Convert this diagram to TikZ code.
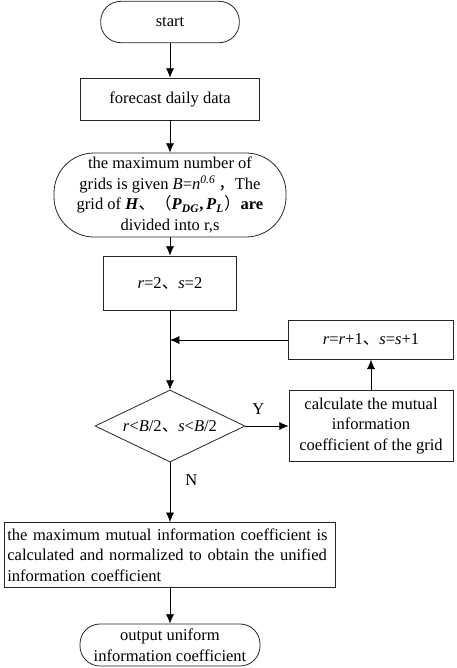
\documentclass[tikz,border=0pt]{standalone}
\usepackage{fontspec}
\setmainfont{Liberation Serif}
\newfontfamily\cjk{Noto Sans CJK SC}
\newcommand\dun{{\cjk 、}}
\usetikzlibrary{shapes.geometric,arrows.meta}

\begin{document}
\begin{tikzpicture}[x=0.75pt,y=-0.75pt,
    font=\fontsize{12.4}{15.5}\selectfont,
    box/.style={draw=black!85, line width=0.6pt, align=center, inner sep=2pt},
    term/.style={box, rounded corners=15pt},
    decide/.style={box, diamond, shape aspect=2.1, inner sep=0pt},
    >={Latex[length=7pt,width=6pt]}]
\useasboundingbox (0,0) rectangle (457,668);

\node[term, minimum width=104pt, minimum height=31pt] (start) at (170,22) {start};
\node[box, minimum width=134pt, minimum height=31.5pt] (fore) at (170,99) {forecast daily data};
\node[box, rounded corners=30pt, minimum width=174pt, minimum height=63pt] (grid) at (170,195)
    {the maximum number of\\
     grids is given \textit{B}=\textit{n}\textsuperscript{\textit{0.6}}\,{\cjk ，}The\\
     grid of \textbf{\textit{H}}\dun{\cjk （}\textbf{\textit{P}\textsubscript{\textit{DG}},\,\textit{P}\textsubscript{\textit{L}}}{\cjk ）}\textbf{are}\\
     divided into r,s};
\node[box, minimum width=100pt, minimum height=40.5pt] (init) at (170,283)
    {\textit{r}=2\dun\textit{s}=2};
\node[box, minimum width=124pt, minimum height=29pt] (incr) at (371,340)
    {\textit{r}=\textit{r}+1\dun\textit{s}=\textit{s}+1};
\coordinate (join) at (170,340);
\node[decide, minimum width=112.5pt, minimum height=54pt] (test) at (170,426)
    {\textit{r}<\textit{B}/2\dun\textit{s}<\textit{B}/2};
\node[box, minimum width=123pt, minimum height=53pt] (calc) at (371,426)
    {calculate the mutual\\ information\\ coefficient of the grid};
\node[box, align=left, text width=244pt, minimum height=49pt] (mic) at (170,555)
    {the maximum mutual information coefficient is\\
     calculated and normalized to obtain the unified\\
     information coefficient};
\node[term, minimum width=135pt, minimum height=31.5pt] (out) at (170,645)
    {output uniform\\ information coefficient};

\draw[->] (start) -- (fore);
\draw[->] (fore) -- (grid);
\draw[->] (grid) -- (init);
\draw[->] (init) -- (test);
\draw[->] (incr) -- (join);
\draw[->] (calc) -- (incr);
\draw[->] (test) -- node[pos=0.3, above=5pt] {Y} (calc);
\draw[->] (test) -- node[pos=0.3, right=8pt] {N} (mic);
\draw[->] (mic) -- (out);
\end{tikzpicture}
\end{document}
